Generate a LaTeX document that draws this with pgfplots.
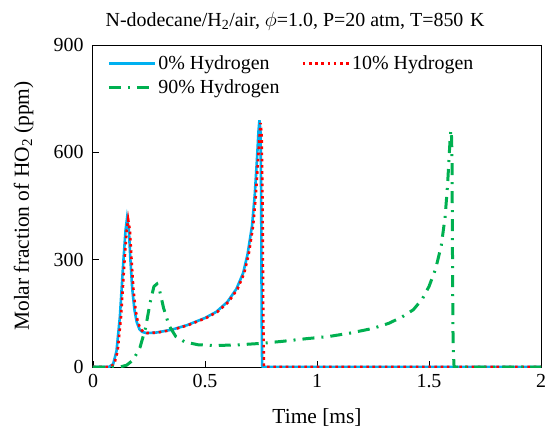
\documentclass[border=0pt]{standalone}
\usepackage{fontspec}
\setmainfont{Liberation Serif}
\usepackage{pgfplots}
\pgfplotsset{compat=1.18}
\definecolor{xblue}{RGB}{0,176,240}
\definecolor{xred}{RGB}{255,0,0}
\definecolor{xgreen}{RGB}{0,176,80}
\begin{document}
\begin{tikzpicture}
\begin{axis}[
  at={(0,0)}, anchor=south west,
  scale only axis, width=448bp, height=322bp,
  xmin=0, xmax=2, ymin=0, ymax=900,
  xtick={0,0.5,1,1.5,2}, ytick={0,300,600,900},
  xticklabels={0,0.5,1,1.5,2},
  tick align=inside, xtick pos=bottom, ytick pos=left,
  major tick length=6bp,
  tick style={black, line width=0.8bp},
  axis line style={black, line width=1bp},
  /pgf/number format/assume math mode=true,
  ticklabel style={font=\fontsize{20}{24}\selectfont},
  xticklabel style={yshift=-4bp},
  yticklabel style={xshift=-6bp},
  xlabel={Time [ms]}, ylabel={Molar fraction of HO\textsubscript{2} (ppm)},
  label style={font=\fontsize{21.5}{26}\selectfont},
  xlabel style={at={(axis description cs:0.5,0)}, anchor=north, yshift=-38bp},
  ylabel style={at={(axis description cs:-0.125,0.5)}, anchor=south},
  title={N-dodecane/H\textsubscript{2}/air, $\phi$=1.0, P=20 atm, T=850\,\,K},
  title style={font=\fontsize{20}{24}\selectfont, at={(axis description cs:0.451,1)}, anchor=south, yshift=5bp},
  legend columns=2,
  legend style={draw=none, fill=none, at={(axis description cs:0.025,0.98)}, anchor=north west,
    font=\fontsize{20}{24}\selectfont, row sep=5bp,
    /tikz/every even column/.append style={column sep=20bp},
    /tikz/every odd column/.append style={column sep=0bp}},
  legend cell align=left,
  legend image code/.code={\draw[#1] (0bp,0bp) -- (46bp,0bp);},
]
\addplot[xblue, line width=2.6bp] coordinates {
(0,0) (0.07,0) (0.09,8) (0.105,45) (0.12,140) (0.135,290) (0.145,380) (0.152,416) (0.16,385) (0.167,300) (0.175,220) (0.185,160) (0.195,126) (0.207,106) (0.22,98) (0.237,95) (0.28,96) (0.35,104) (0.42,117) (0.5,137) (0.55,154) (0.6,182) (0.64,218) (0.67,262) (0.69,315) (0.71,395) (0.722,480) (0.732,580) (0.739,660) (0.743,690) (0.748,655) (0.751,450) (0.753,150) (0.755,5) (0.758,0) (2,0)
};
\addlegendentry{0\% Hydrogen}
\addplot[xred, line width=2.6bp, dash pattern=on 2.6bp off 3.6bp] coordinates {
(0,0) (0.075,0) (0.095,8) (0.11,45) (0.125,140) (0.14,290) (0.15,380) (0.157,412) (0.165,380) (0.172,300) (0.18,220) (0.19,160) (0.2,126) (0.212,106) (0.225,98) (0.242,95) (0.285,96) (0.355,104) (0.425,117) (0.505,137) (0.555,154) (0.605,182) (0.645,218) (0.675,262) (0.695,315) (0.715,395) (0.727,480) (0.737,580) (0.744,650) (0.748,682) (0.753,650) (0.757,450) (0.76,150) (0.763,5) (0.766,0) (2,0)
};
\addlegendentry{10\% Hydrogen}
\addplot[xgreen, line width=3bp, dash pattern=on 12bp off 7bp on 2bp off 7bp] coordinates {
(0,0) (0.12,0) (0.15,5) (0.18,20) (0.21,55) (0.235,110) (0.255,180) (0.272,225) (0.285,232) (0.297,215) (0.315,165) (0.34,115) (0.37,85) (0.41,70) (0.47,62) (0.55,60) (0.65,62) (0.75,66) (0.85,72) (0.95,79) (1.05,85) (1.15,95) (1.25,108) (1.32,122) (1.38,140) (1.43,160) (1.47,190) (1.5,225) (1.53,275) (1.555,340) (1.572,420) (1.583,510) (1.59,590) (1.595,645) (1.598,662) (1.601,640) (1.603,560) (1.605,300) (1.607,100) (1.609,40) (1.612,0) (2,0)
};
\addlegendentry{90\% Hydrogen}
\end{axis}
\pgfresetboundingbox
\useasboundingbox (-93bp,-61bp) rectangle (456bp,367bp);
\end{tikzpicture}
\end{document}
